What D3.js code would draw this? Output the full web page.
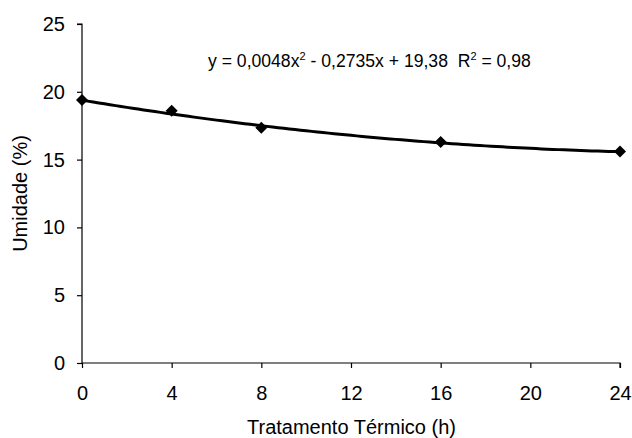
<!DOCTYPE html>
<html>
<head>
<meta charset="utf-8">
<script src="https://cdn.jsdelivr.net/npm/d3@7"></script>
<style>
  body { margin: 0; background: #fff; }
  text { font-family: Arial, "Liberation Sans", sans-serif; fill: #000; }
</style>
</head>
<body>
<div id="chart"></div>
<script>
'use strict';

// measured points
const hours = [0, 4, 8, 16, 24];
const moisture = [19.4, 18.6, 17.35, 16.3, 15.6];

// polynomial trendline coefficients, as printed on the chart: a*x^2 + b*x + c
const trendCoef = [0.0048, -0.2735, 19.38];

const xTicks = [0, 4, 8, 12, 16, 20, 24];
const yTicks = [0, 5, 10, 15, 20, 25];

const W = 632, H = 438;
const margin = { left: 82, right: 12, top: 24, bottom: 75 };

const svg = d3.select('#chart').append('svg')
  .attr('width', W)
  .attr('height', H);

const x = d3.scaleLinear().domain([0, 24]).range([margin.left, 620]);
const y = d3.scaleLinear().domain([0, 25]).range([363, margin.top]);

// axes
const yAxis = svg.append('g')
  .attr('transform', 'translate(' + margin.left + ',0)')
  .call(d3.axisLeft(y).tickValues(yTicks).tickSize(5).tickPadding(12));
const xAxis = svg.append('g')
  .attr('transform', 'translate(0,' + y(0) + ')')
  .call(d3.axisBottom(x).tickValues(xTicks).tickSize(5).tickPadding(18));

[xAxis, yAxis].forEach(function (a) {
  a.select('.domain').attr('stroke', '#000').attr('stroke-width', 1.2);
  a.selectAll('.tick line').attr('stroke', '#000').attr('stroke-width', 1.2);
  a.selectAll('.tick text')
    .style('font-family', 'Arial, "Liberation Sans", sans-serif')
    .style('font-size', '20px')
    .attr('fill', '#000');
});
yAxis.select('.domain').attr('d', 'M-5,' + y(25) + 'H0V' + y(0));
xAxis.select('.domain').attr('d', 'M' + x(0) + ',0H' + x(24) + 'V5');

// trendline
const trendX = d3.range(0, 24.01, 0.25);
const trend = d3.line()
  .x(function (d) { return x(d); })
  .y(function (d) { return y(trendCoef[0] * d * d + trendCoef[1] * d + trendCoef[2]); });

svg.append('path')
  .datum(trendX)
  .attr('d', trend)
  .attr('fill', 'none')
  .attr('stroke', '#000')
  .attr('stroke-width', 3)
  .attr('stroke-linejoin', 'round');

// markers (square diamonds)
svg.append('g').selectAll('path')
    .data(hours)
  .enter().append('path')
    .attr('d', 'M0,-6L6,0L0,6L-6,0Z')
    .attr('transform', function (d, i) {
      return 'translate(' + x(d) + ',' + y(moisture[i]) + ')';
    })
    .attr('fill', '#000');

// equation label
const eq = svg.append('text')
  .attr('x', 208)
  .attr('y', 66.5)
  .attr('xml:space', 'preserve')
  .style('white-space', 'pre')
  .style('font-size', '17.6px');
eq.append('tspan').text('y = 0,0048x');
eq.append('tspan').attr('dy', -7).style('font-size', '11px').text('2');
eq.append('tspan').attr('dy', 7).text(' - 0,2735x + 19,38  R');
eq.append('tspan').attr('dy', -7).style('font-size', '11px').text('2');
eq.append('tspan').attr('dy', 7).text(' = 0,98');

// axis titles
svg.append('text')
  .attr('x', (x(0) + x(24)) / 2 + 0.5)
  .attr('y', 434)
  .attr('text-anchor', 'middle')
  .style('font-size', '20px')
  .text('Tratamento Térmico (h)');

svg.append('text')
  .attr('transform', 'translate(27,' + y(12.5) + ') rotate(-90)')
  .attr('text-anchor', 'middle')
  .style('font-size', '20px')
  .text('Umidade (%)');
</script>
</body>
</html>
